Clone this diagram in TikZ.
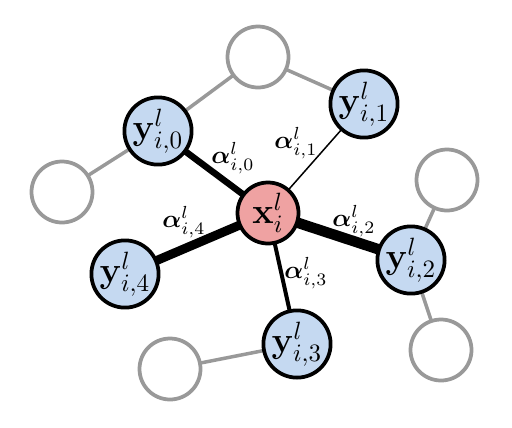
\documentclass[tikz,border=0pt]{standalone}
\usepackage{amsmath}
\usetikzlibrary{backgrounds}
\definecolor{nodepink}{RGB}{239,162,162}
\definecolor{nodeblue}{RGB}{197,217,241}
\definecolor{edgegray}{RGB}{153,153,153}
\begin{document}
\begin{tikzpicture}[x=0.4pt,y=-0.4pt,
  basenode/.style={circle,minimum size=24.4pt,inner sep=0pt,line width=1.5pt,font=\Large},
  mainnode/.style={basenode,draw=black,fill=nodepink},
  nbnode/.style={basenode,draw=black,fill=nodeblue},
  graynode/.style={basenode,draw=edgegray,fill=white},
  grayedge/.style={draw=edgegray,line width=1.4pt},
  wedge/.style={draw=black,line width=#1},
  lbl/.style={inner sep=0pt}]
\useasboundingbox (0,0) rectangle (512,427);
% nodes
\node[mainnode] (x)  at (268,213) {$\mathbf{x}^l_i$};
\node[nbnode]   (y0) at (158,131) {$\mathbf{y}^l_{i,0}$};
\node[nbnode]   (y1) at (364,104) {$\mathbf{y}^l_{i,1}$};
\node[nbnode]   (y2) at (411,260) {$\mathbf{y}^l_{i,2}$};
\node[nbnode]   (y3) at (297,344) {$\mathbf{y}^l_{i,3}$};
\node[nbnode]   (y4) at (125,274) {$\mathbf{y}^l_{i,4}$};
\node[graynode] (gt) at (258,57) {};
\node[graynode] (gl) at (62,192) {};
\node[graynode] (gr) at (447,180) {};
\node[graynode] (gs) at (441,350) {};
\node[graynode] (gb) at (170,369) {};
% edges
\begin{scope}[on background layer]
\draw[grayedge] (gt.center) -- (y0.center);
\draw[grayedge] (gt.center) -- (y1.center);
\draw[grayedge] (gl.center) -- (y0.center);
\draw[grayedge] (gr.center) -- (y2.center);
\draw[grayedge] (gs.center) -- (y2.center);
\draw[grayedge] (gb.center) -- (y3.center);
\draw[wedge=2.6pt] (x.center) -- (y0.center);
\draw[wedge=0.6pt] (x.center) -- (y1.center);
\draw[wedge=4.2pt] (x.center) -- (y2.center);
\draw[wedge=1.6pt] (x.center) -- (y3.center);
\draw[wedge=3.6pt] (x.center) -- (y4.center);
\end{scope}
% labels
\node[lbl] (a0) at (233,158) {$\boldsymbol{\alpha}^l_{i,0}$};
\node[lbl] (a1) at (296,143) {$\boldsymbol{\alpha}^l_{i,1}$};
\node[lbl] (a2) at (354,221) {$\boldsymbol{\alpha}^l_{i,2}$};
\node[lbl] (a3) at (306,273) {$\boldsymbol{\alpha}^l_{i,3}$};
\node[lbl] (a4) at (184,222) {$\boldsymbol{\alpha}^l_{i,4}$};
\end{tikzpicture}
\end{document}
